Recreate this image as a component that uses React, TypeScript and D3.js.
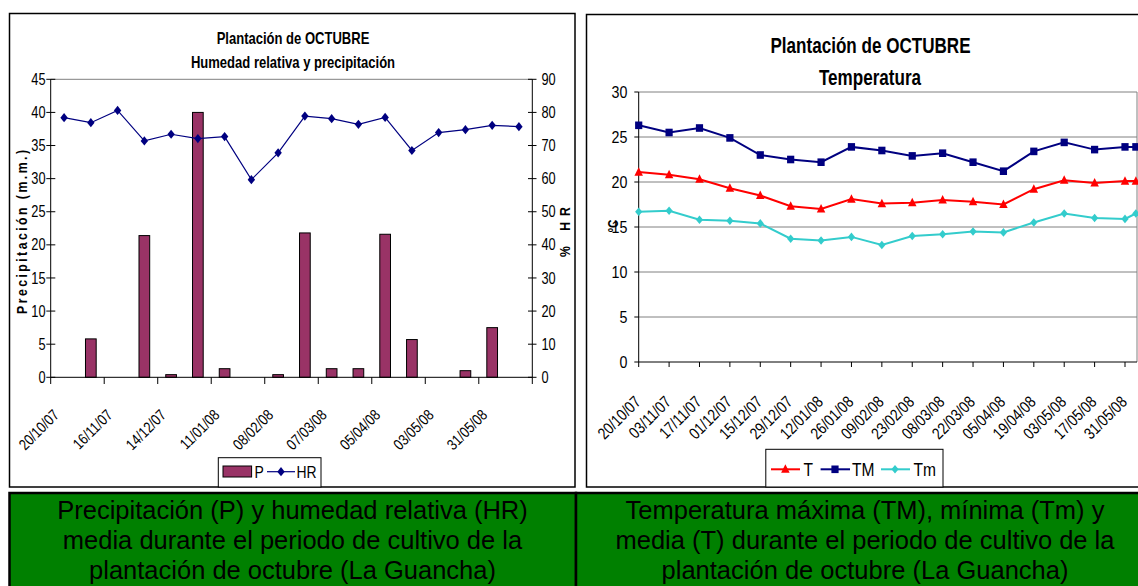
import React from 'react';
import * as d3 from 'd3';

// ---------- Left chart data ----------
const precipitation = [0, 5.8, 0, 21.4, 0.4, 40, 1.3, 0, 0.4, 21.8, 1.3, 1.3, 21.6, 5.7, 0, 1.0, 7.5, 0];
const humidity = [78.4, 76.9, 80.6, 71.4, 73.4, 72.1, 72.7, 59.7, 67.8, 78.9, 78.1, 76.4, 78.5, 68.5, 73.9, 74.8, 76.1, 75.7];
const leftTickLabels = ['20/10/07', '16/11/07', '14/12/07', '11/01/08', '08/02/08', '07/03/08', '05/04/08', '03/05/08', '31/05/08'];
const precipTicks = [0, 5, 10, 15, 20, 25, 30, 35, 40, 45];
const hrTicks = [0, 10, 20, 30, 40, 50, 60, 70, 80, 90];

// ---------- Right chart data ----------
const tempDates = ['20/10/07', '03/11/07', '17/11/07', '01/12/07', '15/12/07', '29/12/07', '12/01/08', '26/01/08', '09/02/08', '23/02/08', '08/03/08', '22/03/08', '05/04/08', '19/04/08', '03/05/08', '17/05/08', '31/05/08', '05/06/08'];
const tempTickLabels = ['20/10/07', '03/11/07', '17/11/07', '01/12/07', '15/12/07', '29/12/07', '12/01/08', '26/01/08', '09/02/08', '23/02/08', '08/03/08', '22/03/08', '05/04/08', '19/04/08', '03/05/08', '17/05/08', '31/05/08'];
const tMean = [21.1, 20.8, 20.3, 19.3, 18.5, 17.3, 17.0, 18.1, 17.6, 17.7, 18.0, 17.8, 17.5, 19.2, 20.2, 19.9, 20.1, 20.1];
const tMax = [26.3, 25.5, 26.0, 24.9, 23.0, 22.5, 22.2, 23.9, 23.5, 22.9, 23.2, 22.2, 21.2, 23.4, 24.4, 23.6, 23.9, 23.9];
const tMin = [16.7, 16.8, 15.8, 15.7, 15.4, 13.7, 13.5, 13.9, 13.0, 14.0, 14.2, 14.5, 14.4, 15.5, 16.5, 16.0, 15.9, 16.5];
const tempTicks = [0, 5, 10, 15, 20, 25, 30];

const captionLeft = ['Precipitación (P) y humedad relativa (HR)', 'media durante el periodo de cultivo de la', 'plantación de octubre (La Guancha)'];
const captionRight = ['Temperatura máxima (TM), mínima (Tm) y', 'media (T) durante el periodo de cultivo de la', 'plantación de octubre (La Guancha)'];

const FONT = "'Liberation Sans', Arial, Helvetica, sans-serif";
const PLUM = '#993366';
const NAVY = '#000080';
const RED = '#FF0000';
const TURQ = '#33CCCC';
const GREEN = '#008000';

const Txt = ({ x, y, size, bold = false, anchor = 'start', rot = 0, sx = 0.82, dy, textLength, children }: any) => (
  <text
    transform={`translate(${x},${y})${rot ? ` rotate(${rot})` : ''} scale(${sx},1)`}
    fontFamily={FONT}
    fontSize={size}
    fontWeight={bold ? 700 : 400}
    textAnchor={anchor}
    dy={dy}
    textLength={textLength}
    lengthAdjust={textLength ? 'spacing' : undefined}
    fill="#000"
  >
    {children}
  </text>
);

const diamondPath = (w: number, h: number) => `M0,${-h}L${w},0L0,${h}L${-w},0Z`;
const trianglePath = (w: number, h: number) => `M0,${-h * 0.58}L${w / 2},${h * 0.42}L${-w / 2},${h * 0.42}Z`;

export default function App() {
  // ---------- Left chart scales ----------
  const idx = precipitation.map((_, i) => i);
  const lx = d3.scaleBand<number>().domain(idx).range([50.7, 532.3]);
  const lyP = d3.scaleLinear().domain([0, 45]).range([377.3, 79.3]);
  const lyHR = d3.scaleLinear().domain([0, 90]).range([377.3, 79.3]);
  const bw = lx.bandwidth() * 0.4;
  const cx = (i: number) => (lx(i) as number) + lx.bandwidth() / 2;
  const hrLine = d3.line<number>().x((_, i) => cx(i)).y((d) => lyHR(d));
  const leftTickXs = d3.range(0, precipitation.length + 1, 2).map((i) => 50.7 + lx.step() * i);

  // ---------- Right chart scales ----------
  const parse = d3.utcParse('%d/%m/%y');
  const rx = d3
    .scaleUtc()
    .domain([parse(tempTickLabels[0]) as Date, parse(tempTickLabels[tempTickLabels.length - 1]) as Date])
    .range([638.7, 1125]);
  const ry = d3.scaleLinear().domain([0, 30]).range([362, 92]);
  const tLine = d3
    .line<number>()
    .x((_, i) => rx(parse(tempDates[i]) as Date))
    .y((d) => ry(d));
  const px = (i: number) => rx(parse(tempDates[i]) as Date);

  const PLOT_R = 1137;

  return (
    <div style={{ position: 'absolute', left: 0, top: 0, width: 1138, height: 586, background: '#fff', overflow: 'hidden' }}>
      <svg width={1138} height={586} style={{ display: 'block' }}>
        <rect x={0} y={0} width={1138} height={586} fill="#fff" />

        {/* ================= LEFT CHART ================= */}
        <rect x={9.5} y={13.5} width={565.5} height={473.5} fill="#fff" stroke="#000" strokeWidth={1.5} />
        <Txt x={293} y={44.3} size={16.5} bold anchor="middle" sx={0.79}>Plantación de OCTUBRE</Txt>
        <Txt x={293} y={68.3} size={16.5} bold anchor="middle" sx={0.79}>Humedad relativa y precipitación</Txt>

        {/* plot border top */}
        <line x1={50.7} x2={532.3} y1={79.3} y2={79.3} stroke="#808080" strokeWidth={1} />

        {/* bars */}
        {precipitation.map((v, i) =>
          v > 0 ? (
            <rect key={'b' + i} x={cx(i) - bw / 2} y={lyP(v)} width={bw} height={lyP(0) - lyP(v)} fill={PLUM} stroke="#000" strokeWidth={1} />
          ) : null
        )}

        {/* axes */}
        <line x1={50.7} x2={50.7} y1={79.3} y2={377.3} stroke="#000" strokeWidth={1} />
        <line x1={532.3} x2={532.3} y1={79.3} y2={377.3} stroke="#000" strokeWidth={1} />
        <line x1={50.7} x2={532.3} y1={377.3} y2={377.3} stroke="#000" strokeWidth={1} />
        {precipTicks.map((t) => (
          <g key={'pt' + t}>
            <line x1={46.3} x2={55.3} y1={lyP(t)} y2={lyP(t)} stroke="#000" strokeWidth={1} />
            <Txt x={45.5} y={lyP(t)} size={16} anchor="end" dy="0.35em" sx={0.8}>{t}</Txt>
          </g>
        ))}
        {hrTicks.map((t) => (
          <g key={'ht' + t}>
            <line x1={528} x2={536.5} y1={lyHR(t)} y2={lyHR(t)} stroke="#000" strokeWidth={1} />
            <Txt x={541.5} y={lyHR(t)} size={16} anchor="start" dy="0.35em" sx={0.8}>{t}</Txt>
          </g>
        ))}
        {leftTickXs.map((x, k) => (
          <line key={'lxt' + k} x1={x} x2={x} y1={377.3} y2={384} stroke="#000" strokeWidth={1} />
        ))}
        {leftTickLabels.map((lab, k) => (
          <Txt key={'lxl' + k} x={cx(k * 2) - 4} y={416} size={15.5} anchor="end" rot={-45} sx={0.82}>{lab}</Txt>
        ))}

        {/* HR line */}
        <path d={hrLine(humidity) as string} fill="none" stroke={NAVY} strokeWidth={1.2} />
        {humidity.map((v, i) => (
          <path key={'hm' + i} d={diamondPath(3.7, 4.6)} transform={`translate(${cx(i)},${lyHR(v)})`} fill={NAVY} />
        ))}

        {/* axis titles */}
        <Txt x={27} y={232} size={15} bold anchor="middle" rot={-90} sx={0.82} textLength={200}>Precipitación (m.m.)</Txt>
        <Txt x={570} y={232} size={15} bold anchor="middle" rot={-90} sx={0.82} textLength={61}>% HR</Txt>

        {/* legend */}
        <rect x={218.3} y={457.7} width={102.7} height={29.3} fill="#fff" stroke="#000" strokeWidth={1} />
        <rect x={223} y={466} width={28.6} height={11} fill={PLUM} stroke="#000" strokeWidth={1} />
        <Txt x={254.5} y={471.7} size={17} dy="0.35em" sx={0.82}>P</Txt>
        <line x1={267} x2={295} y1={471.7} y2={471.7} stroke={NAVY} strokeWidth={1.2} />
        <path d={diamondPath(3.7, 4.6)} transform="translate(281,471.7)" fill={NAVY} />
        <Txt x={296.5} y={471.7} size={17} dy="0.35em" sx={0.82}>HR</Txt>

        {/* ================= RIGHT CHART ================= */}
        <rect x={586.5} y={14.5} width={560} height={472.5} fill="#fff" stroke="#000" strokeWidth={1.5} />
        <Txt x={870.5} y={53.3} size={22} bold anchor="middle" sx={0.776}>Plantación de OCTUBRE</Txt>
        <Txt x={870} y={84.5} size={22} bold anchor="middle" sx={0.776}>Temperatura</Txt>

        {/* gridlines */}
        {tempTicks.filter((t) => t > 0).map((t) => (
          <line key={'g' + t} x1={638.7} x2={PLOT_R} y1={ry(t)} y2={ry(t)} stroke="#808080" strokeWidth={1} />
        ))}
        <line x1={PLOT_R} x2={PLOT_R} y1={92} y2={362} stroke="#808080" strokeWidth={1} />

        {/* axes */}
        <line x1={638.7} x2={638.7} y1={92} y2={362} stroke="#000" strokeWidth={1} />
        <line x1={638.7} x2={PLOT_R} y1={362} y2={362} stroke="#000" strokeWidth={1} />
        {tempTicks.map((t) => (
          <g key={'ty' + t}>
            <line x1={634.3} x2={638.7} y1={ry(t)} y2={ry(t)} stroke="#000" strokeWidth={1} />
            <Txt x={627.5} y={ry(t)} size={17} anchor="end" dy="0.35em" sx={0.84}>{t}</Txt>
          </g>
        ))}
        {tempTickLabels.map((lab, k) => {
          const x = rx(parse(lab) as Date);
          return (
            <g key={'tx' + k}>
              <line x1={x} x2={x} y1={362} y2={367} stroke="#000" strokeWidth={1} />
              <Txt x={x + 3} y={403} size={16.5} anchor="end" rot={-45} sx={0.82}>{lab}</Txt>
            </g>
          );
        })}
        <Txt x={618} y={226} size={14} bold anchor="middle" rot={-90} sx={0.82}>ºC</Txt>

        {/* series */}
        <path d={tLine(tMin) as string} fill="none" stroke={TURQ} strokeWidth={2} />
        <path d={tLine(tMean) as string} fill="none" stroke={RED} strokeWidth={2} />
        <path d={tLine(tMax) as string} fill="none" stroke={NAVY} strokeWidth={2} />
        {tMin.map((v, i) => (
          <path key={'mn' + i} d={diamondPath(3.6, 4.3)} transform={`translate(${px(i)},${ry(v)})`} fill={TURQ} />
        ))}
        {tMean.map((v, i) => (
          <path key={'me' + i} d={trianglePath(8.5, 8.5)} transform={`translate(${px(i)},${ry(v)})`} fill={RED} />
        ))}
        {tMax.map((v, i) => (
          <rect key={'mx' + i} x={px(i) - 3.6} y={ry(v) - 3.8} width={7.2} height={7.6} fill={NAVY} />
        ))}

        {/* legend */}
        <rect x={765.8} y={449.3} width={177.2} height={37.7} fill="#fff" stroke="#000" strokeWidth={1} />
        <line x1={771} x2={800} y1={469.3} y2={469.3} stroke={RED} strokeWidth={2} />
        <path d={trianglePath(8.5, 8.5)} transform="translate(785.4,469.3)" fill={RED} />
        <Txt x={803.6} y={469.3} size={19} dy="0.35em" sx={0.82}>T</Txt>
        <line x1={820.6} x2={850} y1={469.3} y2={469.3} stroke={NAVY} strokeWidth={2} />
        <rect x={835 - 3.6} y={469.3 - 3.8} width={7.2} height={7.6} fill={NAVY} />
        <Txt x={852} y={469.3} size={19} dy="0.35em" sx={0.82}>TM</Txt>
        <line x1={881} x2={910} y1={469.3} y2={469.3} stroke={TURQ} strokeWidth={2} />
        <path d={diamondPath(3.6, 4.3)} transform="translate(895,469.3)" fill={TURQ} />
        <Txt x={913.6} y={469.3} size={19} dy="0.35em" sx={0.82}>Tm</Txt>

        {/* ================= CAPTION TABLE ================= */}
        <rect x={9.5} y={493} width={566.5} height={100} fill={GREEN} stroke="#000" strokeWidth={2.5} />
        <rect x={576} y={493} width={570} height={100} fill={GREEN} stroke="#000" strokeWidth={2.5} />
        {captionLeft.map((s, i) => (
          <text key={'cl' + i} x={292.5} y={519 + i * 30} fontFamily={FONT} fontSize={25.5} textAnchor="middle" fill="#000">{s}</text>
        ))}
        {captionRight.map((s, i) => (
          <text key={'cr' + i} x={865} y={519 + i * 30} fontFamily={FONT} fontSize={25.5} textAnchor="middle" fill="#000">{s}</text>
        ))}
      </svg>
    </div>
  );
}
